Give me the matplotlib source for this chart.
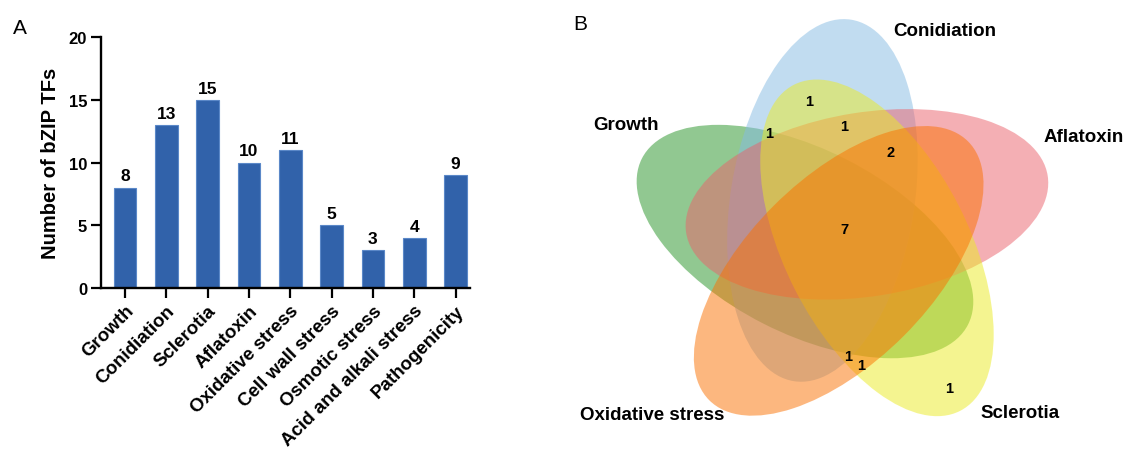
import numpy as np
import matplotlib
matplotlib.use("Agg")
import matplotlib.pyplot as plt
from matplotlib.patches import Ellipse
from matplotlib.transforms import ScaledTranslation

plt.rcParams['font.family'] = ['Liberation Sans', 'DejaVu Sans']

# ---- data: bar panel ----
categories = ["Growth", "Conidiation", "Sclerotia", "Aflatoxin", "Oxidative stress",
              "Cell wall stress", "Osmotic stress", "Acid and alkali stress", "Pathogenicity"]
counts = [8, 13, 15, 10, 11, 5, 3, 4, 9]
yticks = [0, 5, 10, 15, 20]

# ---- data: Venn panel ----
venn_sets = ["Conidiation", "Aflatoxin", "Sclerotia", "Oxidative stress", "Growth"]
venn_colors = ["#85BBE3", "#EB616B", "#EBEB23", "#FB7100", "#259325"]
venn_draw_order = ["Growth", "Conidiation", "Aflatoxin", "Sclerotia", "Oxidative stress"]
region_counts = [1, 1, 1, 2, 7, 1, 1, 1]

W, H = 1128, 452
fig = plt.figure(figsize=(W / 100, H / 100), dpi=100)

# ---------------- Panel A: bar chart ----------------
ax = fig.add_axes([101 / W, 1 - 289 / H, (470 - 101) / W, (289 - 38) / H])
x = np.arange(len(categories))
bars = ax.bar(x, counts, width=0.55, color="#3162AA", edgecolor="#5B88C8", linewidth=0.8)
ax.bar_label(bars, padding=3, fontsize=12.5, fontweight="bold")
ax.set_xlim(-0.58, 8.35)
ax.set_ylim(0, 20)
ax.set_yticks(yticks)
ax.set_yticklabels([str(v) for v in yticks], fontsize=12, fontweight="bold")
ax.set_xticks(x)
ax.set_xticklabels(categories, rotation=45, ha="right", va="top",
                   rotation_mode="anchor", fontsize=13.5, fontweight="bold")
shift = ScaledTranslation(6 / 100, -5 / 100, fig.dpi_scale_trans)
for lab in ax.get_xticklabels():
    lab.set_transform(lab.get_transform() + shift)
ax.set_ylabel("Number of bZIP TFs", fontsize=14.5, fontweight="bold")
ax.yaxis.set_label_coords(-0.112, 0.5)
for side in ("top", "right"):
    ax.spines[side].set_visible(False)
for side in ("left", "bottom"):
    ax.spines[side].set_linewidth(1.7)
ax.tick_params(axis="both", length=7, width=1.6, direction="out", pad=3)
fig.text(13 / W, 1 - 34 / H, "A", fontsize=15, va="baseline", ha="left")

# ---------------- Panel B: five-set Venn ----------------
vx = fig.add_axes([570 / W, 0, (W - 570) / W, 1])
vx.set_xlim(570, W)
vx.set_ylim(H, 0)
vx.axis("off")

cx, cy = 842, 234          # common centre of the flower
offset = 38                 # distance of each ellipse centre from it
semi_a, semi_b = 183, 92    # ellipse half-axes
base_pos, base_axis = 121, 81

geom = {}
for k, name in enumerate(venn_sets):
    th = np.deg2rad(base_pos - 72 * k)
    ex = cx + offset * np.cos(th)
    ey = cy - offset * np.sin(th)
    geom[name] = (ex, ey, -(base_axis - 72 * k), venn_colors[k])

for name in venn_draw_order:
    ex, ey, ang, col = geom[name]
    vx.add_patch(Ellipse((ex, ey), 2 * semi_a, 2 * semi_b, angle=ang,
                         facecolor=col, alpha=0.5, linewidth=0))

region_xy = [(809, 102), (769, 134), (844, 127), (891, 153),
             (844, 230), (848, 357), (861, 366), (949, 389)]
for n, (px, py) in zip(region_counts, region_xy):
    vx.text(px, py, str(n), fontsize=10.5, fontweight="bold", ha="center", va="center")

set_label_xy = {"Conidiation": (945, 32), "Aflatoxin": (1084, 138), "Sclerotia": (1020, 414),
                "Oxidative stress": (652, 416), "Growth": (626, 126)}
for name in venn_sets:
    px, py = set_label_xy[name]
    vx.text(px, py, name, fontsize=13.5, fontweight="bold", ha="center", va="center")

fig.text(573 / W, 1 - 30 / H, "B", fontsize=15, va="baseline", ha="left")

fig.savefig("out.png", dpi=100)
